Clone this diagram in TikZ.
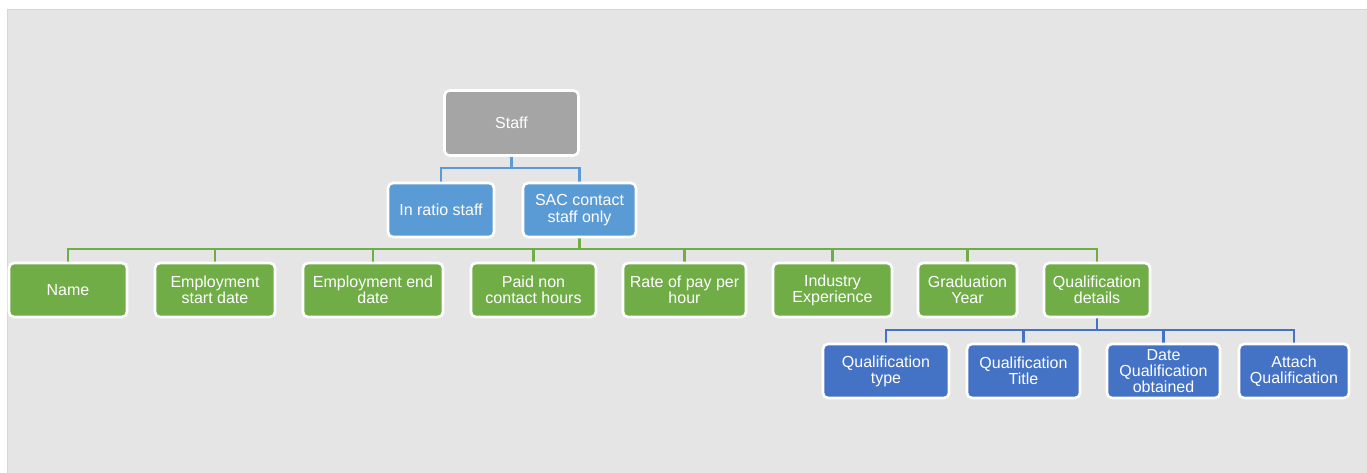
\documentclass[tikz,border=0pt]{standalone}
\usepackage{fontspec}
\setmainfont{Liberation Sans}
\usetikzlibrary{backgrounds}
\definecolor{bgc}{HTML}{E5E5E5}
\definecolor{bgline}{HTML}{D6D6D6}
\definecolor{graybox}{HTML}{A5A5A5}
\definecolor{lightblue}{HTML}{5B9BD5}
\definecolor{greenbox}{HTML}{70AD47}
\definecolor{darkblue}{HTML}{4472C4}
\begin{document}
\begin{tikzpicture}[x=1pt,y=-1pt,
  box/.style={draw=white, line width=2.6pt, rounded corners=5pt, text=white,
    align=center, inner sep=0pt, font=\fontsize{16}{16.2}\selectfont},
  lvl0/.style={box, fill=graybox, minimum width=134, minimum height=65},
  lvl1/.style={box, fill=lightblue, minimum height=54},
  lvl2/.style={box, fill=greenbox, minimum height=54},
  lvl3/.style={box, fill=darkblue, minimum height=54},
  conn/.style={line width=2.2pt}]
\useasboundingbox (0,0) rectangle (1367,473);
\coordinate (l1) at (0,168);
\coordinate (l2) at (0,249);
\coordinate (l3) at (0,330);

\node[lvl0] (staff) at (511.5,123) {Staff};

\node[lvl1, minimum width=106] (inratio) at (441,210) {In ratio staff};
\node[lvl1, minimum width=113] (sac) at (579.5,210) {SAC contact\\staff only};

\node[lvl2, minimum width=118] (name) at (68,290) {Name};
\node[lvl2, minimum width=120] (esd) at (215,290) {Employment\\start date};
\node[lvl2, minimum width=140] (eed) at (373,290) {Employment end\\date};
\node[lvl2, minimum width=125] (pnc) at (533.5,290) {Paid non\\contact hours};
\node[lvl2, minimum width=123] (rop) at (684.5,290) {Rate of pay per\\hour};
\node[lvl2, minimum width=119] (ie) at (832.5,290) {Industry\\Experience};
\node[lvl2, minimum width=99] (gy) at (967.5,290) {Graduation\\Year};
\node[lvl2, minimum width=106] (qd) at (1097,290) {Qualification\\details};

\node[lvl3, minimum width=126] (qt) at (886,371) {Qualification\\type};
\node[lvl3, minimum width=113] (qtitle) at (1023.5,371) {Qualification\\Title};
\node[lvl3, minimum width=113] (dqo) at (1163.5,371) {Date\\Qualification\\obtained};
\node[lvl3, minimum width=110] (aq) at (1294,371) {Attach\\Qualification};

\begin{scope}[on background layer]
  \fill[bgc] (7,9) rectangle (1367,473);
  \draw[bgline, line width=0.8pt] (1367,9) -- (7,9) -- (7,473);
  \draw[conn, lightblue] (staff.south) -- (staff.south |- l1) -| (inratio.north);
  \draw[conn, lightblue] (staff.south |- l1) -| (sac.north);
  \draw[conn, greenbox] (sac.south) -- (sac.south |- l2);
  \foreach \c in {name,esd,eed,pnc,rop,ie,gy,qd}
    \draw[conn, greenbox] (sac.south |- l2) -| (\c.north);
  \draw[conn, darkblue] (qd.south) -- (qd.south |- l3);
  \foreach \c in {qt,qtitle,dqo,aq}
    \draw[conn, darkblue] (qd.south |- l3) -| (\c.north);
\end{scope}
\end{tikzpicture}
\end{document}
